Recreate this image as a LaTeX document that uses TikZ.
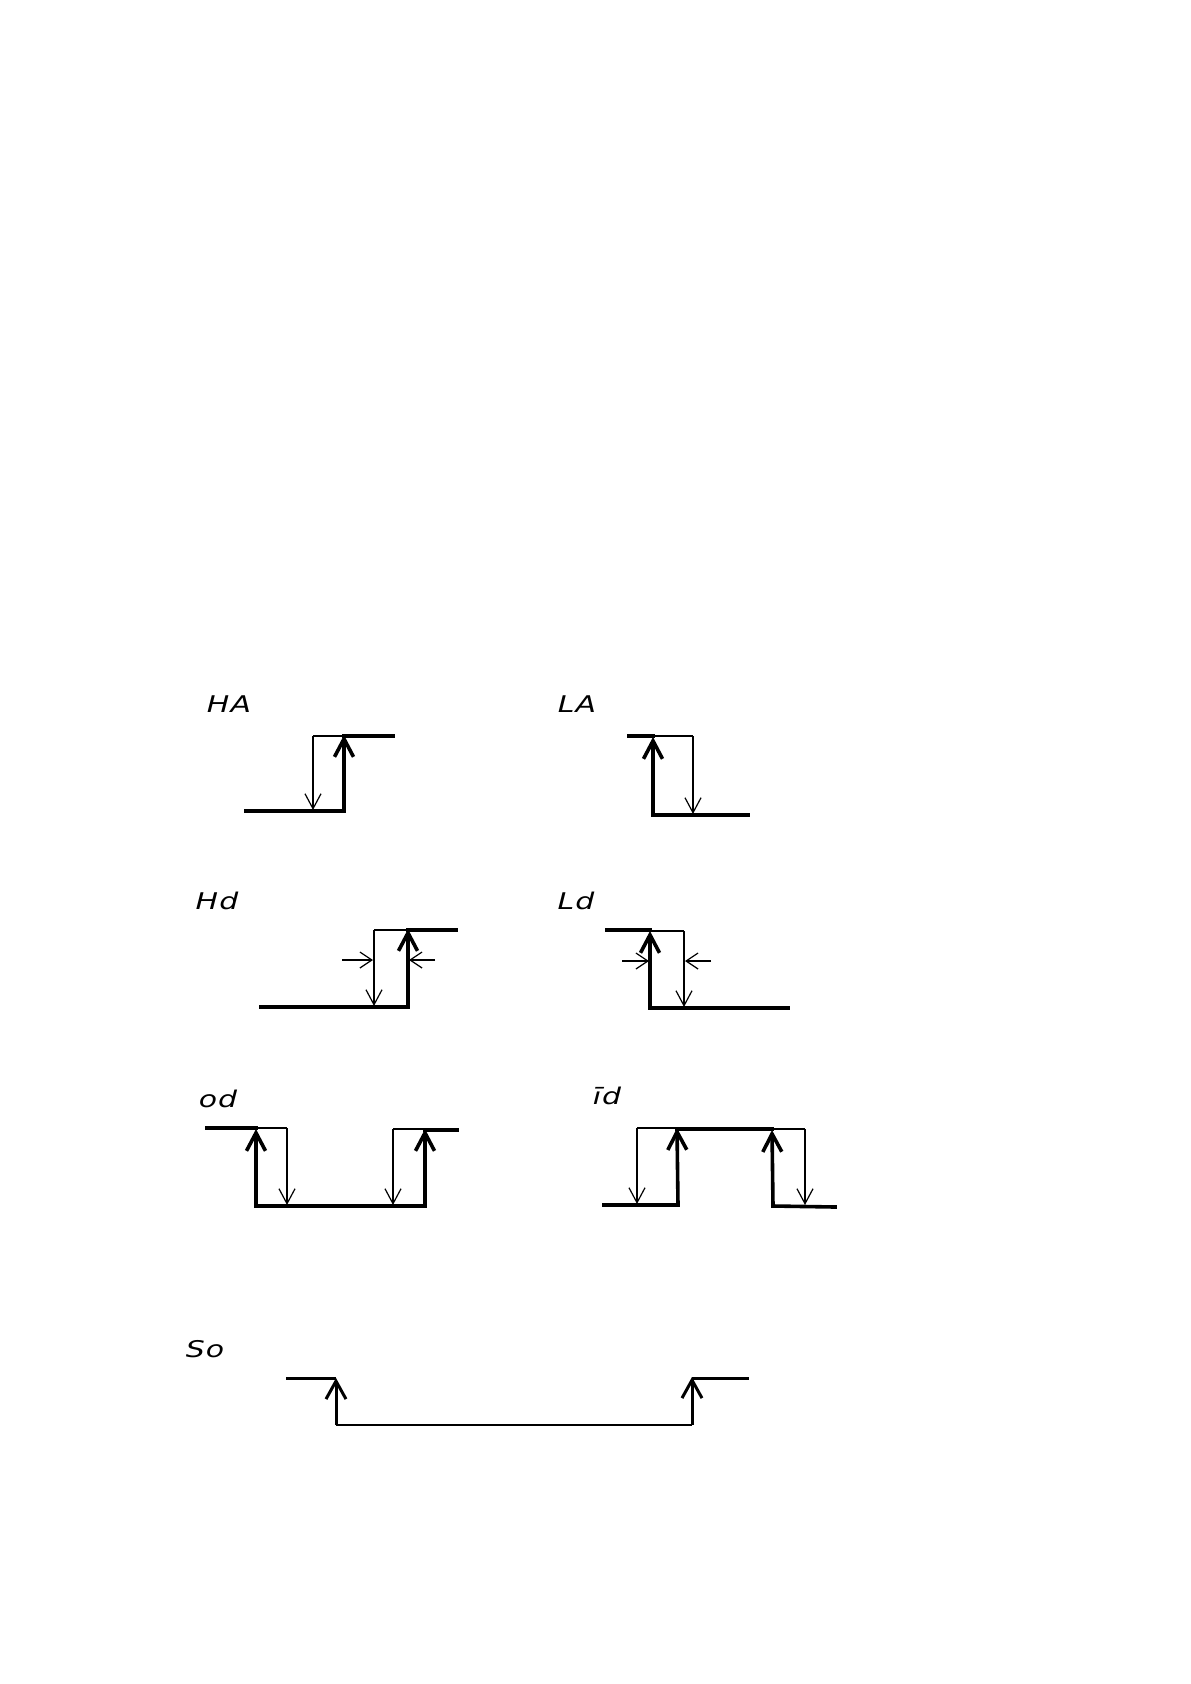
\documentclass[tikz,border=0pt]{standalone}
\usepackage{fontspec}
\newfontfamily\segfont{DejaVu Sans}[FakeStretch=1.3, LetterSpace=5]
\usetikzlibrary{arrows.meta}
\tikzset{
  sig/.style={line width=3.6pt, line cap=rect},
  sigmid/.style={line width=3pt},
  ref/.style={line width=1.2pt},
  thickup/.style={sig, -{Straight Barb[length=18pt,width=19pt,line width=3.6pt]}},
  midup/.style={sigmid, -{Straight Barb[length=18pt,width=20pt,line width=3pt]}},
  thindown/.style={ref, -{Straight Barb[length=15pt,width=16pt,line width=1.2pt]}},
  dimarrow/.style={ref, -{Straight Barb[length=12pt,width=16pt,line width=1.2pt]}},
  lbl/.style={font=\segfont\itshape\fontsize{23}{23}\selectfont, inner sep=0pt}
}
\begin{document}
\begin{tikzpicture}[x=1pt,y=-1pt]
\useasboundingbox (0,0) rectangle (1191,1684);
\fill[white] (0,0) rectangle (1191,1684);

% ---------- HA ----------
\node[lbl] (tHA) at (229,704) {HA};
\coordinate (ha1) at (246,811);
\coordinate (ha2) at (344,811);
\coordinate (ha3) at (344,735);
\coordinate (ha4) at (393,736);
\coordinate (ha5) at (313,736);
\coordinate (ha6) at (313,810);
\draw[sig] (ha1) -- (ha2);
\draw[thickup] (ha2) -- (ha3);
\draw[sig] (ha3 |- ha4) -- (ha4);
\draw[ref] (ha3 |- ha5) -- (ha5);
\draw[thindown] (ha5) -- (ha6);

% ---------- LA ----------
\node[lbl] (tLA) at (577,704) {LA};
\coordinate (la1) at (629,736);
\coordinate (la2) at (653,736);
\coordinate (la3) at (653,815);
\coordinate (la4) at (748,815);
\coordinate (la5) at (693,736);
\coordinate (la6) at (693,814);
\draw[sig] (la1) -- (la2);
\draw[thickup] (la3) -- ([yshift=-1pt]la2);
\draw[sig] (la3) -- (la4);
\draw[ref] (la2) -- (la5);
\draw[thindown] (la5) -- (la6);

% ---------- Hd ----------
\node[lbl] (tHd) at (217,901) {Hd};
\coordinate (hd1) at (261,1007);
\coordinate (hd2) at (408,1007);
\coordinate (hd3) at (408,929);
\coordinate (hd4) at (456,930);
\coordinate (hd5) at (374,930);
\coordinate (hd6) at (374,1006);
\coordinate (hdL) at (342,960);
\coordinate (hdLe) at (373,960);
\coordinate (hdR) at (435,960);
\coordinate (hdRe) at (409,960);
\draw[sig] (hd1) -- (hd2);
\draw[thickup] (hd2) -- (hd3);
\draw[sig] (hd3 |- hd4) -- (hd4);
\draw[ref] (hd5) -- (hd3 |- hd5);
\draw[thindown] (hd5) -- (hd6);
\draw[dimarrow] (hdL) -- (hdLe);
\draw[dimarrow] (hdR) -- (hdRe);

% ---------- Ld ----------
\node[lbl] (tLd) at (576,901) {Ld};
\coordinate (ld1) at (607,930);
\coordinate (ld2) at (650,930);
\coordinate (ld3) at (650,1008);
\coordinate (ld4) at (788,1008);
\coordinate (ld5) at (684,931);
\coordinate (ld6) at (684,1007);
\coordinate (ldL) at (622,961);
\coordinate (ldLe) at (649,961);
\coordinate (ldR) at (711,961);
\coordinate (ldRe) at (685,961);
\draw[sig] (ld1) -- (ld2);
\draw[thickup] (ld3) -- ([yshift=-1pt]ld2);
\draw[sig] (ld3) -- (ld4);
\draw[ref] (ld2 |- ld5) -- (ld5);
\draw[thindown] (ld5) -- (ld6);
\draw[dimarrow] (ldL) -- (ldLe);
\draw[dimarrow] (ldR) -- (ldRe);

% ---------- od ----------
\node[lbl] (tod) at (218,1099) {od};
\coordinate (od1) at (207,1128);
\coordinate (od2) at (256,1128);
\coordinate (od3) at (256,1206);
\coordinate (od4) at (425,1206);
\coordinate (od5) at (425,1129);
\coordinate (od6) at (457,1130);
\coordinate (od7) at (287,1128);
\coordinate (od8) at (287,1205);
\coordinate (od9) at (393,1129);
\coordinate (od10) at (393,1205);
\draw[sig] (od1) -- (od2);
\draw[thickup] (od3) -- ([yshift=-1pt]od2);
\draw[sig] (od3) -- (od4);
\draw[thickup] (od4) -- (od5);
\draw[sig] (od5 |- od6) -- (od6);
\draw[ref] (od2) -- (od7);
\draw[thindown] (od7) -- (od8);
\draw[ref] (od9) -- (od5 |- od9);
\draw[thindown] (od9) -- (od10);

% ---------- id ----------
\node[lbl] (tid) at (607,1096) {īd};
\coordinate (id1) at (604,1205);
\coordinate (id2) at (678,1205);
\coordinate (id3) at (677,1128);
\coordinate (id4) at (772,1129);
\coordinate (id5) at (773,1206);
\coordinate (id6) at (835,1207);
\coordinate (id7) at (637,1128);
\coordinate (id8) at (637,1204);
\coordinate (id9) at (805,1129);
\coordinate (id10) at (805,1205);
\draw[sig] (id1) -- (id2);
\draw[thickup] (id2) -- (id3);
\draw[sig] (id3 |- id4) -- (id4);
\draw[thickup] (id5) -- ([yshift=-1pt]id4);
\draw[sig] (id5) -- (id6);
\draw[ref] (id7) -- (id3);
\draw[thindown] (id7) -- (id8);
\draw[ref] (id4) -- (id9);
\draw[thindown] (id9) -- (id10);

% ---------- So ----------
\node[lbl] (tSo) at (205,1349) {So};
\coordinate (so1) at (286,1378);
\coordinate (so2) at (336,1378);
\coordinate (so3) at (336,1425);
\coordinate (so4) at (692,1425);
\coordinate (so5) at (692,1377);
\coordinate (so6) at (749,1378);
\draw[sigmid] (so1) -- (so2);
\draw[midup] (so3) -- (so2);
\draw[line width=2.2pt] (so3) -- (so4);
\draw[midup] (so4) -- (so5);
\draw[sigmid] (so5 |- so6) -- (so6);
\end{tikzpicture}
\end{document}
